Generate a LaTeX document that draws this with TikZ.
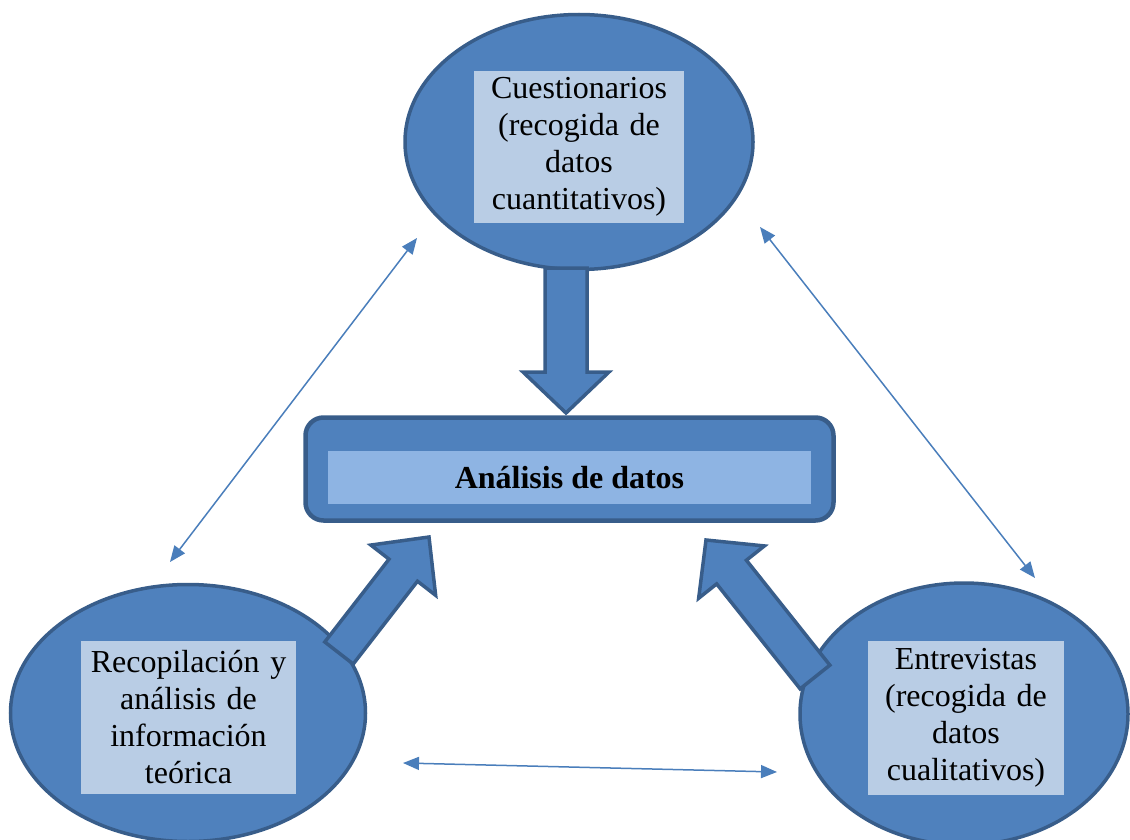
\documentclass[tikz,border=0pt]{standalone}
\usepackage{fontspec}
\setmainfont{Liberation Serif}
\usetikzlibrary{shapes.geometric,arrows.meta,calc}
\definecolor{fillblue}{HTML}{4F81BD}
\definecolor{edgeblue}{HTML}{385D8A}
\definecolor{lineblue}{HTML}{4A7EBB}
\definecolor{paleblue}{HTML}{B9CDE5}
\definecolor{midblue}{HTML}{8EB4E3}
\tikzset{
  oval/.style={ellipse, draw=edgeblue, fill=fillblue, line width=3.5pt, inner sep=0pt},
  txtbox/.style={fill=paleblue, align=center, inner sep=0pt, font=\fontsize{32}{37}\selectfont},
  thinarrow/.style={draw=lineblue, line width=1.5pt, {Triangle[length=16pt,width=13pt]}-{Triangle[length=16pt,width=13pt]}},
  blockarrow/.style={draw=edgeblue, fill=fillblue, line width=3.5pt, line join=miter},
}
% #1 start (shaft base centre), #2 tip, #3 half shaft width, #4 half head width, #5 head length
\newcommand\blockarr[5]{%
  \coordinate (ba-B) at ($(#2)!#5!(#1)$);
  \draw[blockarrow] ($(#1)!#3!90:(#2)$) -- ($(ba-B)!#3!90:(#2)$) -- ($(ba-B)!#4!90:(#2)$)
    -- (#2) -- ($(ba-B)!#4!-90:(#2)$) -- ($(ba-B)!#3!-90:(#2)$) -- ($(#1)!#3!-90:(#2)$) -- cycle;
}
\begin{document}
\begin{tikzpicture}[x=1pt,y=-1pt]
\useasboundingbox (0,0) rectangle (1130,840);
% thin double arrows
\coordinate (l1) at (170,562);
\coordinate (l2) at (417,238);
\coordinate (r1) at (760,227);
\coordinate (r2) at (1035,578);
\coordinate (b1) at (403,763);
\coordinate (b2) at (777,772);
\draw[thinarrow] (l1) -- (l2);
\draw[thinarrow] (r1) -- (r2);
\draw[thinarrow] (b1) -- (b2);
% ellipses
\node[oval, minimum width=348pt, minimum height=255pt] (top) at (579,142) {};
\node[txtbox, text width=210pt, minimum height=152pt] (toptxt) at (579,147)
  {Cuestionarios\\(recogida de\\datos\\cuantitativos)};
\node[oval, minimum width=355pt, minimum height=257pt] (left) at (188,713) {};
\node[txtbox, text width=215pt, minimum height=153pt] (lefttxt) at (188.5,717.5)
  {Recopilación y\\análisis de\\información\\teórica};
\node[oval, minimum width=328pt, minimum height=262pt] (right) at (964,714) {};
\node[txtbox, text width=196pt, minimum height=154pt] (righttxt) at (966,718)
  {Entrevistas\\(recogida de\\datos\\cualitativos)};
% centre box
\node[draw=edgeblue, fill=fillblue, line width=4.5pt, rounded corners=18pt,
      minimum width=528pt, minimum height=103pt, inner sep=0pt] (centre) at (569.5,469) {};
\node[fill=midblue, minimum width=483pt, minimum height=53pt, inner sep=0pt,
      font=\fontsize{32}{37}\selectfont\bfseries] (centretxt) at (569.5,477.5) {Análisis de datos};
% block arrows
\coordinate (tS) at (566,268);
\coordinate (tE) at (566,413);
\blockarr{tS}{tE}{21pt}{43pt}{41pt}
\coordinate (lS) at (339,653);
\coordinate (lE) at (429,537);
\blockarr{lS}{lE}{18pt}{41pt}{42pt}
\coordinate (rS) at (815,677);
\coordinate (rE) at (706,540);
\blockarr{rS}{rE}{19pt}{42pt}{41pt}
\end{tikzpicture}
\end{document}
